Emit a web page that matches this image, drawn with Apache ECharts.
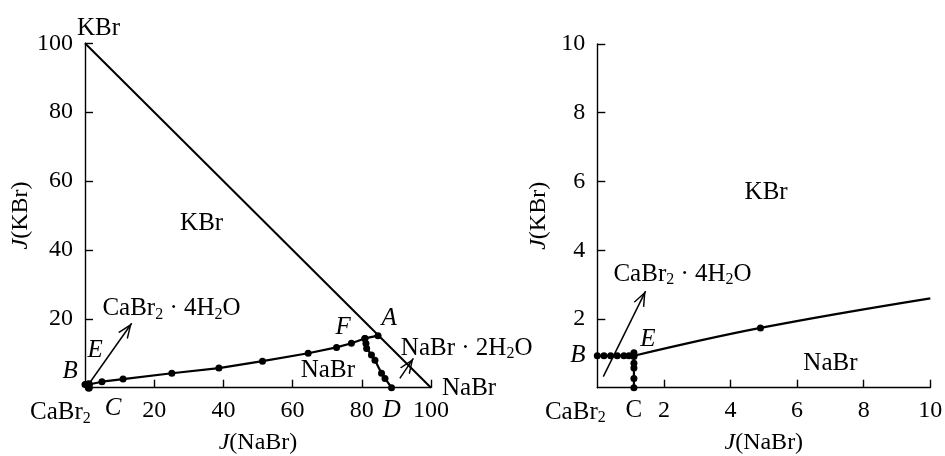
<!DOCTYPE html>
<html><head><meta charset="utf-8">
<script src="https://cdn.jsdelivr.net/npm/echarts@6/dist/echarts.min.js"></script>
<style>html,body{margin:0;padding:0;background:#fff}#c{width:945px;height:456px}</style>
</head><body><div id="c"></div>
<script>
// ---------- data (J(NaBr), J(KBr)) ----------
// Left panel: whole diagram
const triangleNaBr = [0, 100];
const triangleKBr  = [100, 0];
const leftBA_NaBr = [0, 0.5, 1.1, 4.9, 11.0, 25.1, 38.7, 51.3, 64.5, 72.7, 77.0, 80.9, 84.7];
const leftBA_KBr  = [0.93, 0.93, 0.93, 1.74, 2.5, 4.2, 5.7, 7.7, 10.0, 11.7, 12.9, 14.3, 15.1];
const leftFD_NaBr = [80.9, 81.2, 81.4, 82.8, 83.8, 85.7, 86.7, 88.6];
const leftFD_KBr  = [14.3, 12.8, 11.4, 9.5, 8.0, 4.2, 2.7, 0];
const leftEC_NaBr = [1.1, 1.1];
const leftEC_KBr  = [1.02, 0];
// Right panel: enlarged corner
const rightBE_NaBr = [0, 0.2, 0.4, 0.6, 0.8, 0.95, 1.1];
const rightBE_KBr  = [0.93, 0.93, 0.93, 0.93, 0.93, 0.93, 0.93];
const rightEC_NaBr = [1.1, 1.1, 1.1, 1.1, 1.1, 1.1];
const rightEC_KBr  = [1.02, 0.91, 0.71, 0.57, 0.27, 0];
const rightEA_NaBr = [1.1, 4.9, 10.0];
const rightEA_KBr  = [0.93, 1.74, 2.6];
const rightEA_marked = [false, true, false];
// axis ticks
const leftTickStep = 20, leftMax = 100;
const rightTickStep = 2, rightMax = 10;

// ---------- helpers ----------
const FONT = 'Liberation Serif';
const FS = 24;      // tick labels / axis names
const FN = 25;      // annotations
const INK = '#000';
const pairs = (xs, ys) => xs.map((x, i) => [x, ys[i]]);
const chevron = 'path://M50,-100 L50.01,-100 M50,0 L100,100 L87,100 L50,26 L13,100 L0,100 Z';
const rich = {
  s: {fontFamily: FONT, fontSize: 16, padding: [11, 0, 0, 0], color: INK},
  i: {fontFamily: FONT, fontSize: FS, fontStyle: 'italic', color: INK}
};
function notes(list, xi, yi) {
  return {
    type: 'scatter', xAxisIndex: xi, yAxisIndex: yi, clip: false, silent: true,
    symbol: 'circle', symbolSize: 0, itemStyle: {color: INK, opacity: 1}, z: 10,
    data: list.map(n => ({
      name: n.t, value: [n.x, n.y],
      label: {fontStyle: n.it ? 'italic' : 'normal'}
    })),
    label: {
      show: true, position: [0, 0], align: 'center', verticalAlign: 'middle',
      formatter: p => p.name,
      fontFamily: FONT, fontSize: FN, color: INK, textBorderWidth: 0, rich: rich
    },
    emphasis: {disabled: true}
  };
}
function curve(xs, ys, xi, yi, size) {
  return {
    type: 'line', xAxisIndex: xi, yAxisIndex: yi, data: pairs(xs, ys),
    symbol: 'circle', symbolSize: size || 7, showSymbol: true, clip: false,
    lineStyle: {color: INK, width: 2.2}, itemStyle: {color: INK},
    silent: true, animation: false
  };
}
function arrow(a, b) {
  return [{coord: a}, {coord: b}];
}
const hydrateCa = 'CaBr{s|2} · 4H{s|2}O';
const hydrateNa = 'NaBr · 2H{s|2}O';

const leftNotes = [
  {t: 'KBr', x: 3.9, y: 104.3},
  {t: 'KBr', x: 33.7, y: 47.8},
  {t: hydrateCa, x: 25.0, y: 22.9},
  {t: 'E', x: 2.9, y: 10.9, it: true},
  {t: 'B', x: -4.3, y: 4.8, it: true},
  {t: 'F', x: 74.6, y: 17.6, it: true},
  {t: 'A', x: 87.9, y: 20.2, it: true},
  {t: hydrateNa, x: 110.3, y: 11.4},
  {t: 'NaBr', x: 111.0, y: -0.1},
  {t: 'NaBr', x: 70.2, y: 5.1},
  {t: 'CaBr{s|2}', x: -7.1, y: -7.3},
  {t: 'C', x: 8.1, y: -6.1, it: true},
  {t: 'D', x: 88.7, y: -6.7, it: true}
];
const rightNotes = [
  {t: 'KBr', x: 5.07, y: 5.69},
  {t: hydrateCa, x: 2.56, y: 3.3},
  {t: 'E', x: 1.52, y: 1.4, it: true},
  {t: 'B', x: -0.58, y: 0.93, it: true},
  {t: 'NaBr', x: 7.0, y: 0.72},
  {t: 'CaBr{s|2}', x: -0.66, y: -0.73},
  {t: 'C', x: 1.1, y: -0.67}
];

function xAx(gi, max, step) {
  return {
    type: 'value', gridIndex: gi, min: 0, max: max, interval: step,
    name: '{i|J}(NaBr)', nameLocation: 'middle', nameGap: 43,
    nameTextStyle: {fontFamily: FONT, fontSize: FS, color: INK, rich: rich},
    axisLine: {show: true, onZero: false, lineStyle: {color: INK, width: 1.4}},
    axisTick: {show: true, inside: true, length: 8, lineStyle: {color: INK, width: 1.4}},
    axisLabel: {show: true, margin: 11, fontFamily: FONT, fontSize: FS, color: INK,
      formatter: v => v === 0 ? '' : String(v), showMinLabel: false},
    splitLine: {show: false}
  };
}
function yAx(gi, max, step) {
  return {
    type: 'value', gridIndex: gi, min: 0, max: max, interval: step,
    name: '{i|J}(KBr)', nameLocation: 'middle', nameGap: 47, nameRotate: 90,
    nameTextStyle: {fontFamily: FONT, fontSize: FS, color: INK, rich: rich},
    axisLine: {show: true, onZero: false, lineStyle: {color: INK, width: 1.4}},
    axisTick: {show: true, inside: true, length: 8, lineStyle: {color: INK, width: 1.4}},
    axisLabel: {show: true, margin: 12, fontFamily: FONT, fontSize: FS, color: INK,
      formatter: v => v === 0 ? '' : String(v), showMinLabel: false},
    splitLine: {show: false}
  };
}

const arrowLine = {
  silent: true, animation: false,
  symbol: ['none', chevron], symbolSize: [12, 30],
  label: {show: false},
  lineStyle: {color: INK, width: 1.5, type: 'solid'},
  emphasis: {disabled: true}
};

const triangle = curve(triangleNaBr, triangleKBr, 0, 0);
triangle.symbol = 'none';
triangle.lineStyle.width = 2;
triangle.markLine = Object.assign({}, arrowLine, {
  data: [arrow([0.9, 0.8], [13.5, 18.7]), arrow([91.0, 2.7], [94.9, 8.5])]
});

const rightEA = {
  type: 'line', xAxisIndex: 1, yAxisIndex: 1, smooth: 0.4, clip: false,
  data: rightEA_NaBr.map((x, i) => ({value: [x, rightEA_KBr[i]], symbol: rightEA_marked[i] ? 'circle' : 'none'})),
  symbolSize: 7, showSymbol: true,
  lineStyle: {color: INK, width: 2.2}, itemStyle: {color: INK},
  silent: true, animation: false,
  markLine: Object.assign({}, arrowLine, {
    data: [arrow([0.18, 0.32], [1.45, 2.81])]
  })
};

const option = {
  animation: false,
  backgroundColor: '#fff',
  grid: [
    {left: 85, top: 43.3, width: 346, height: 344.4, containLabel: false, outerBoundsMode: 'none'},
    {left: 597.3, top: 44, width: 333, height: 343.7, containLabel: false, outerBoundsMode: 'none'}
  ],
  xAxis: [xAx(0, leftMax, leftTickStep), xAx(1, rightMax, rightTickStep)],
  yAxis: [yAx(0, leftMax, leftTickStep), yAx(1, rightMax, rightTickStep)],
  series: [
    triangle,
    curve(leftBA_NaBr, leftBA_KBr, 0, 0),
    curve(leftFD_NaBr, leftFD_KBr, 0, 0),
    curve(leftEC_NaBr, leftEC_KBr, 0, 0, 8),
    curve(rightBE_NaBr, rightBE_KBr, 1, 1),
    curve(rightEC_NaBr, rightEC_KBr, 1, 1),
    rightEA,
    notes(leftNotes, 0, 0),
    notes(rightNotes, 1, 1)
  ]
};
const chart = echarts.init(document.getElementById('c'), null, {renderer: 'canvas'});
chart.setOption(option);
</script></body></html>
